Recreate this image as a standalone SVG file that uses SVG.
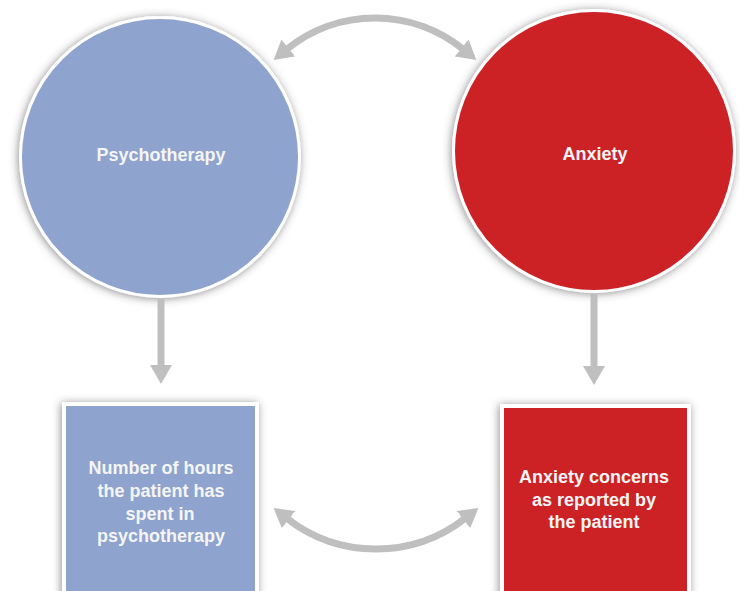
<svg xmlns="http://www.w3.org/2000/svg" width="740" height="591" viewBox="0 0 740 591">
<style>
.blue{fill:#8ea3cd;stroke:#ffffff;stroke-width:3}
.red{fill:#cc2128;stroke:#ffffff;stroke-width:3}
.box{stroke-width:4}
.conn{fill:none;stroke:#bfbfbf;stroke-width:7}
.lbl{font-family:"Liberation Sans",Arial,sans-serif;font-weight:bold;font-size:18px;fill:#f5f5f5;text-anchor:middle}
</style>
<defs>
<filter id="sh" x="-10%" y="-10%" width="120%" height="120%">
<feDropShadow dx="-1" dy="1" stdDeviation="4" flood-color="#444" flood-opacity="0.6"/>
</filter>
<marker id="ah" markerUnits="userSpaceOnUse" markerWidth="20" markerHeight="22" refX="2" refY="11" orient="auto-start-reverse">
<path d="M0,0 L19,11 L0,22 z" fill="#bfbfbf"/>
</marker>
</defs>
<rect width="740" height="591" fill="#ffffff"/>
<g id="psychotherapy">
<circle class="blue" cx="160" cy="157" r="139.5" filter="url(#sh)"/>
<text class="lbl" x="161" y="161">Psychotherapy</text>
</g>
<g id="anxiety">
<circle class="red" cx="594" cy="151" r="140.5" filter="url(#sh)"/>
<text class="lbl" x="595" y="160">Anxiety</text>
</g>
<g id="hours">
<rect class="blue box" x="64" y="404" width="193" height="200" filter="url(#sh)"/>
<text class="lbl" x="161" y="474">Number of hours</text>
<text class="lbl" x="161" y="497">the patient has</text>
<text class="lbl" x="160" y="520">spent in</text>
<text class="lbl" x="161" y="542">psychotherapy</text>
</g>
<g id="concerns">
<rect class="red box" x="502" y="406" width="187" height="200" filter="url(#sh)"/>
<text class="lbl" x="594" y="483">Anxiety concerns</text>
<text class="lbl" x="594" y="506">as reported by</text>
<text class="lbl" x="594" y="528">the patient</text>
</g>
<g id="connectors">
<path class="conn" d="M286.8,49.2 A140,140 0 0 1 463.2,49.2" marker-start="url(#ah)" marker-end="url(#ah)"/>
<path class="conn" d="M287,518.4 A145,145 0 0 0 465,518.4" marker-start="url(#ah)" marker-end="url(#ah)"/>
<path class="conn" d="M161,299 L161,367" marker-end="url(#ah)"/>
<path class="conn" d="M594,294 L594,368" marker-end="url(#ah)"/>
</g>
</svg>
